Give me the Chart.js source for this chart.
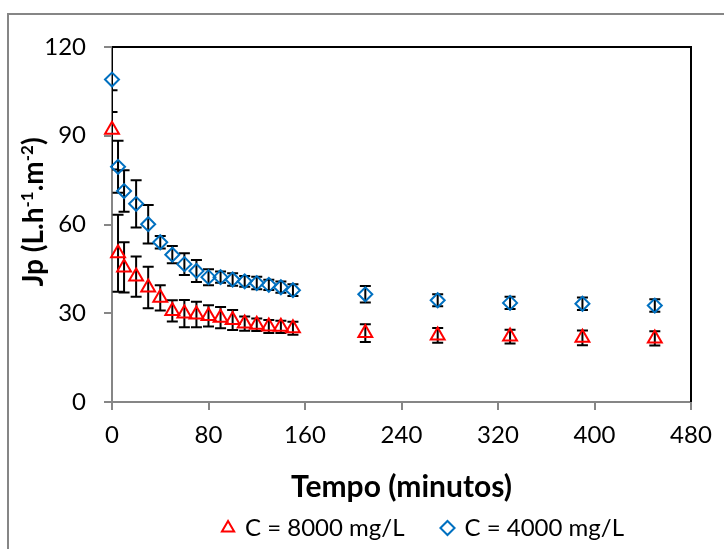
<!DOCTYPE html>
<html>
<head>
<meta charset="utf-8">
<script src="https://cdn.jsdelivr.net/npm/chart.js@4.4.1/dist/chart.umd.min.js"></script>
<style>
  html, body { margin: 0; padding: 0; background: #fff; }
  #wrap { width: 724px; height: 549px; }
</style>
</head>
<body>
<div id="wrap"><canvas id="chart" width="724" height="549"></canvas></div>
<script>
// tempo (minutos)
const times = [0, 5, 10, 20, 30, 40, 50, 60, 70, 80, 90, 100, 110, 120, 130, 140, 150, 210, 270, 330, 390, 450];

// C = 8000 mg/L
const jp8000 = [92, 50.3, 45.5, 42.4, 38.7, 35.2, 30.8, 29.9, 29.6, 29.1, 28.5, 27.7, 26.5, 26.1, 25.5, 25.4, 24.9, 23.3, 22.5, 22.1, 21.7, 21.5];
const err8000 = [13.4, 13, 8.5, 6.8, 7, 4.3, 3.6, 4.6, 4.3, 3.6, 3.6, 3.4, 2.4, 2.1, 2.2, 2.1, 2.2, 3, 2.5, 2.3, 2.5, 2.4];

// C = 4000 mg/L
const jp4000 = [109, 79.5, 71.3, 67, 60.1, 54, 49.8, 46.6, 44.3, 42.2, 42.2, 41.4, 40.8, 40.2, 39.6, 38.8, 37.8, 36.4, 34.4, 33.5, 33.2, 32.6];
const err4000 = [11, 8.8, 7, 8, 6.5, 2.1, 2.9, 3.7, 3.7, 2.7, 1.9, 2.1, 1.8, 2.1, 1.7, 1.9, 2, 2.8, 2, 2.1, 2.1, 2.1];

const xTickValues = [0, 80, 160, 240, 320, 400, 480];
const yTickValues = [0, 30, 60, 90, 120];

const seriesLabels = ['C = 8000 mg/L', 'C = 4000 mg/L'];
const xTitle = 'Tempo (minutos)';
// y title pieces: [text, superscript?]
const yTitleParts = [['Jp (L.h', false], ['-1', true], ['.m', false], ['-2', true], [')', false]];

const AXIS_GRAY = '#868686';
const FONT = 'Lato, "Noto Sans", sans-serif';
const LEGEND_PAD = 38;

const toPoints = (vals) => vals.map((v, i) => ({ x: times[i], y: v }));

// white background + outer frame
const framePlugin = {
  id: 'frame',
  beforeDraw(chart) {
    const { ctx, width, height } = chart;
    ctx.save();
    ctx.fillStyle = '#fff';
    ctx.fillRect(0, 0, width, height);
    ctx.strokeStyle = AXIS_GRAY;
    ctx.lineWidth = 2;
    ctx.strokeRect(8, 14, width + 20, height + 20);
    ctx.restore();
  },
  afterLayout(chart) {
    // legend sits right of centre in the original
    chart.legend.left += 78;
    chart.legend.right += 78;
    chart.legend.top += 1;
    chart.legend.bottom += 1;
  }
};

// black top/right border of the plot area, then error bars
const errorBarPlugin = {
  id: 'errorBars',
  beforeDatasetsDraw(chart) {
    const { ctx, chartArea: a, scales: { x, y } } = chart;
    ctx.save();
    ctx.strokeStyle = '#000';
    ctx.lineWidth = 2;
    ctx.beginPath();
    ctx.moveTo(a.left, a.top);
    ctx.lineTo(a.right, a.top);
    ctx.lineTo(a.right, a.bottom);
    ctx.stroke();

    ctx.beginPath();
    ctx.rect(a.left, a.top - 1, a.width + 1, a.height + 2);
    ctx.clip();
    [[jp8000, err8000], [jp4000, err4000]].forEach(([vals, errs]) => {
      vals.forEach((v, i) => {
        const px = x.getPixelForValue(times[i]);
        const top = y.getPixelForValue(v + errs[i]);
        const bot = y.getPixelForValue(v - errs[i]);
        ctx.beginPath();
        ctx.moveTo(px, top);
        ctx.lineTo(px, bot);
        ctx.moveTo(px - 5.5, top);
        ctx.lineTo(px + 5.5, top);
        ctx.moveTo(px - 5.5, bot);
        ctx.lineTo(px + 5.5, bot);
        ctx.stroke();
      });
    });
    ctx.restore();
  }
};

// rotated y title with superscripts
const yTitlePlugin = {
  id: 'yTitle',
  afterDraw(chart) {
    const { ctx } = chart;
    const base = 'bold 28px ' + FONT;
    const sup = 'bold 17px ' + FONT;
    ctx.save();
    let total = 0;
    yTitleParts.forEach(([t, s]) => { ctx.font = s ? sup : base; total += ctx.measureText(t).width; });
    ctx.translate(43, 212);
    ctx.rotate(-Math.PI / 2);
    ctx.fillStyle = '#000';
    ctx.textBaseline = 'alphabetic';
    let cx = -total / 2;
    yTitleParts.forEach(([t, s]) => {
      ctx.font = s ? sup : base;
      ctx.fillText(t, cx, s ? -10 : 0);
      cx += ctx.measureText(t).width;
    });
    ctx.restore();
  }
};

new Chart(document.getElementById('chart'), {
  type: 'scatter',
  data: {
    datasets: [
      {
        label: seriesLabels[0],
        data: toPoints(jp8000),
        pointStyle: 'triangle',
        pointRadius: 8,
        pointHoverRadius: 8,
        pointBorderWidth: 2,
        borderColor: '#FF0000',
        backgroundColor: 'rgba(0,0,0,0)',
        clip: false
      },
      {
        label: seriesLabels[1],
        data: toPoints(jp4000),
        pointStyle: 'rectRot',
        pointRadius: 7,
        pointHoverRadius: 7,
        pointBorderWidth: 2,
        borderColor: '#0070C0',
        backgroundColor: 'rgba(0,0,0,0)',
        clip: false
      }
    ]
  },
  options: {
    responsive: false,
    animation: false,
    events: [],
    layout: { padding: { left: 0, top: 47, right: 33, bottom: 0 } },
    scales: {
      x: {
        type: 'linear',
        min: 0,
        max: 480,
        afterBuildTicks: (s) => { s.ticks = xTickValues.map(v => ({ value: v })); },
        afterFit: (s) => { s.height = 113 - LEGEND_PAD; },
        ticks: { color: '#000', font: { family: FONT, size: 24 }, padding: 11, maxRotation: 0 },
        grid: { drawOnChartArea: false, drawTicks: true, tickLength: 8, color: AXIS_GRAY, lineWidth: 2 },
        border: { display: true, color: AXIS_GRAY, width: 2 },
        title: { display: true, text: xTitle, color: '#000', font: { family: FONT, size: 30, weight: 'bold' }, padding: { top: 0, bottom: 10 - LEGEND_PAD } }
      },
      y: {
        type: 'linear',
        min: 0,
        max: 120,
        afterBuildTicks: (s) => { s.ticks = yTickValues.map(v => ({ value: v })); },
        afterFit: (s) => { s.width = 112; },
        ticks: { color: '#000', font: { family: FONT, size: 24 }, padding: 18 },
        grid: { drawOnChartArea: false, drawTicks: true, tickLength: 8, color: AXIS_GRAY, lineWidth: 2 },
        border: { display: true, color: AXIS_GRAY, width: 2 }
      }
    },
    plugins: {
      legend: {
        position: 'bottom',
        labels: {
          usePointStyle: true,
          boxWidth: 10,
          boxHeight: 10,
          color: '#000',
          font: { family: FONT, size: 24 },
          padding: LEGEND_PAD
        }
      },
      tooltip: { enabled: false }
    }
  },
  plugins: [framePlugin, errorBarPlugin, yTitlePlugin]
});
</script>
</body>
</html>
